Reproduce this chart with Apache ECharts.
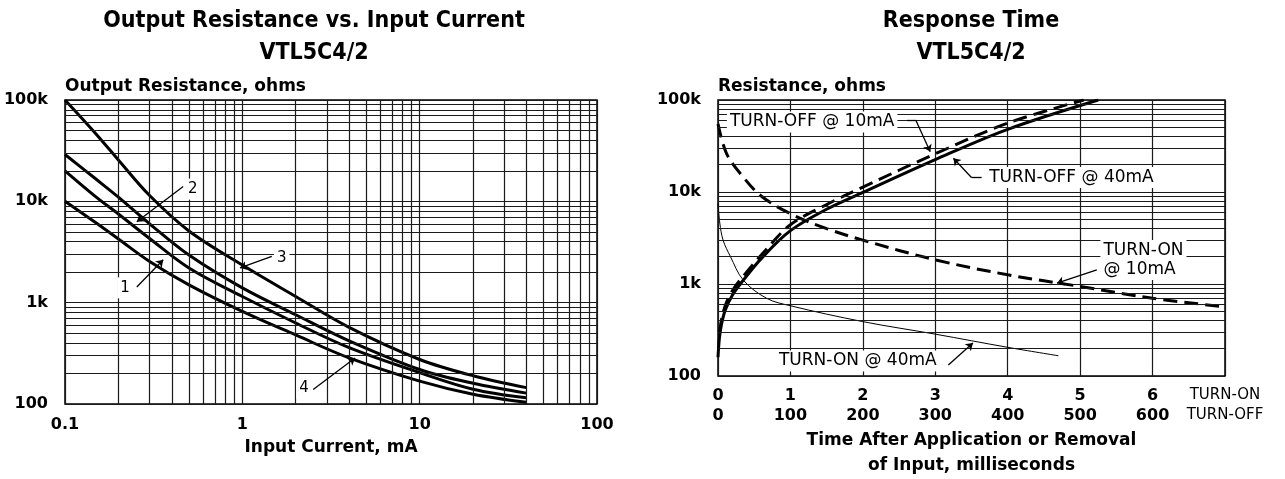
<!DOCTYPE html>
<html>
<head>
<meta charset="utf-8">
<script src="https://cdn.jsdelivr.net/npm/echarts@6/dist/echarts.min.js"></script>
<style>
  html, body { margin: 0; padding: 0; background: #fff; }
  #main { width: 1285px; height: 479px; }
</style>
</head>
<body>
<div id="main"></div>
<script>
// ---- left chart: output resistance (ohms) vs input current (mA)
const currentMA = [0.1, 0.15, 0.2, 0.3, 0.5, 1, 2, 4, 10, 20, 40];
const curve1 = [20000, 11000, 7500, 4300, 2200, 1150, 630, 360, 204, 140, 115];
const curve2 = [29000, 16500, 11000, 6000, 2950, 1400, 760, 420, 219, 160, 128];
const curve3 = [100000, 46000, 25600, 11400, 5100, 2350, 1150, 570, 275, 190, 145];
const curve4 = [10000, 6100, 4250, 2550, 1500, 820, 480, 285, 168, 125, 104];

// ---- right chart: response time
// turn-off curves use the 0..700 ms scale, turn-on curves the 0..7 ms scale
const off10Ms = [2, 6, 12, 22, 38, 65, 100, 150, 200, 300, 400, 505];
const off10Ohm = [300, 450, 640, 900, 1300, 2300, 4400, 7300, 11300, 26000, 56000, 100000];
const off40Ms = [0, 2, 5, 10, 20, 35, 60, 100, 150, 200, 300, 400, 525];
const off40Ohm = [160, 260, 370, 520, 760, 1100, 1900, 3800, 6500, 9900, 22500, 48000, 100000];
const on10Ms = [0, 0.12, 0.35, 0.6, 1, 1.5, 2, 3, 4, 5, 6, 7];
const on10Ohm = [55000, 26000, 14500, 9000, 5800, 4000, 3000, 1830, 1260, 940, 700, 565];
const on40Ms = [0, 0.025, 0.07, 0.17, 0.35, 0.67, 1, 2, 3, 4, 4.7];
const on40Ohm = [7500, 4600, 3000, 2000, 1100, 700, 580, 390, 285, 205, 166];

// tick labels
const ohmTicks = [100, 1000, 10000, 100000];
const ohmLabels = ['100', '1k', '10k', '100k'];
const onLabels = ['0', '1', '2', '3', '4', '5', '6', 'TURN-ON'];
const offLabels = ['0', '100', '200', '300', '400', '500', '600', 'TURN-OFF'];

// annotations [x, y] in data units (right chart x in turn-on ms)
const leftNotes = [
  { text: '1', at: [0.218, 1400], line: [[0.254, 1430], [0.358, 2650]] },
  { text: '2', at: [0.525, 13200], line: [[0.464, 14000], [0.254, 6300]] },
  { text: '3', at: [1.668, 2760], line: [[1.466, 2860], [0.97, 2200]] },
  { text: '4', at: [2.23, 144.5], line: [[2.51, 139], [4.32, 285]] }
];
const rightNotes = [
  { text: 'TURN-OFF @ 10mA', at: [1.30, 57700], line: [[2.61, 60600], [2.73, 60600], [2.93, 27400]] },
  { text: 'TURN-OFF @ 40mA', at: [4.88, 14400], line: [[3.64, 14400], [3.50, 14400], [3.25, 23300]] },
  { text: 'TURN-ON\n@ 10mA', at: [5.28, 1820], left: true, line: [[5.23, 1420], [4.68, 1020]] },
  { text: 'TURN-ON @ 40mA', at: [1.93, 145.6], line: [[3.18, 131.8], [3.52, 228]] }
];

const axisFont = 'DejaVu Sans';
const titleFont = '"Liberation Sans Narrow", "DejaVu Sans Condensed", sans-serif';
const gridColor = '#1a1a1a';

function minorValues(lo, hi) {
  const out = [];
  for (let d = lo; d < hi; d *= 10) {
    for (let k = 2; k <= 9; k++) out.push(+(k * d).toPrecision(3));
  }
  return out;
}

function ohmFmt(v) {
  const i = ohmTicks.findIndex(t => Math.abs(t - v) / t < 1e-6);
  return i >= 0 ? ohmLabels[i] : '';
}

function pairs(xs, ys) {
  return xs.map((x, i) => [x, ys[i]]);
}

function gridSeries(xIdx, yIdx, xs, ys) {
  return {
    type: 'line', xAxisIndex: xIdx, yAxisIndex: yIdx, data: [], z: 1, silent: true,
    markLine: {
      silent: true, symbol: 'none', animation: false,
      label: { show: false },
      lineStyle: { color: gridColor, width: 1.2, type: 'solid' },
      emphasis: { disabled: true },
      data: xs.map(v => ({ xAxis: v })).concat(ys.map(v => ({ yAxis: v })))
    }
  };
}

function noteSeries(xIdx, yIdx, notes, fontSize) {
  const lines = [];
  notes.forEach(n => {
    for (let i = 0; i < n.line.length - 1; i++) {
      const last = i === n.line.length - 2;
      lines.push([
        { coord: n.line[i], symbol: 'none' },
        { coord: n.line[i + 1], symbol: last ? 'arrow' : 'none' }
      ]);
    }
  });
  return {
    type: 'line', xAxisIndex: xIdx, yAxisIndex: yIdx, data: [], z: 5, silent: true,
    markLine: {
      silent: true, animation: false, symbolSize: 7,
      label: { show: false },
      lineStyle: { color: '#000', width: 1.3, type: 'solid' },
      emphasis: { disabled: true },
      data: lines
    },
    markPoint: {
      silent: true, animation: false, symbol: 'rect', symbolSize: 1,
      itemStyle: { color: 'rgba(0,0,0,0)' },
      data: notes.map(n => ({
        name: n.text, coord: n.at,
        label: {
          show: true, position: 'inside', formatter: p => p.name,
          align: n.left ? 'left' : 'center',
          color: '#000', fontFamily: axisFont, fontSize: fontSize, fontWeight: 'normal',
          lineHeight: 19, backgroundColor: '#fff', padding: [1, 3]
        }
      }))
    }
  };
}

function curve(xIdx, yIdx, data, width, dashed) {
  return {
    type: 'line', xAxisIndex: xIdx, yAxisIndex: yIdx, data: data, z: 3,
    smooth: 0.35, symbol: 'none', silent: true, animation: false,
    lineStyle: { color: '#000', width: width, type: dashed ? [14, 7] : 'solid', cap: 'butt' }
  };
}

const tickLabel = { color: '#000', fontFamily: axisFont, fontWeight: 'bold', fontSize: 16 };
const nameStyle = { color: '#000', fontFamily: axisFont, fontWeight: 'bold', fontSize: 17 };
const split = { show: true, lineStyle: { color: gridColor, width: 1.2 } };
const unitRich = { u: { fontFamily: axisFont, fontWeight: 'normal', fontSize: 15, color: '#000' } };

const chart = echarts.init(document.getElementById('main'));
chart.setOption({
  animation: false,
  backgroundColor: '#fff',
  title: [
    {
      text: 'Output Resistance vs. Input Current\nVTL5C4/2', left: 309, top: 0, textAlign: 'center',
      textStyle: { fontFamily: titleFont, fontWeight: 'bold', fontSize: 23, lineHeight: 32, color: '#000' }
    },
    {
      text: 'Response Time\nVTL5C4/2', left: 966, top: 0, textAlign: 'center',
      textStyle: { fontFamily: titleFont, fontWeight: 'bold', fontSize: 23, lineHeight: 32, color: '#000' }
    }
  ],
  grid: [
    { left: 65, top: 100, width: 532, height: 304, show: true, borderColor: '#000', borderWidth: 1.5, outerBoundsMode: 'none' },
    { left: 718, top: 100, width: 507, height: 276, show: true, borderColor: '#000', borderWidth: 1.5, outerBoundsMode: 'none' }
  ],
  xAxis: [
    {
      type: 'log', logBase: 10, gridIndex: 0, min: 0.1, max: 100,
      name: 'Input Current, mA', nameLocation: 'middle', nameGap: 35, nameTextStyle: nameStyle,
      axisLine: { show: false }, axisTick: { show: false }, splitLine: split,
      axisLabel: Object.assign({ margin: 13, formatter: v => String(+(+v).toPrecision(3)) }, tickLabel)
    },
    {
      type: 'value', gridIndex: 1, min: 0, max: 7, interval: 1,
      name: 'Time After Application or Removal\nof Input, milliseconds', nameLocation: 'middle', nameGap: 52,
      nameTextStyle: Object.assign({ lineHeight: 25 }, nameStyle),
      axisLine: { show: false }, axisTick: { show: false }, splitLine: split,
      axisLabel: Object.assign({
        margin: 12, showMaxLabel: true, rich: unitRich,
        formatter: v => (v === 7 ? '{u|' + onLabels[v] + '}' : onLabels[Math.round(v)])
      }, tickLabel)
    },
    {
      type: 'value', gridIndex: 1, min: 0, max: 700, interval: 100, position: 'bottom', offset: 20,
      axisLine: { show: false }, axisTick: { show: false }, splitLine: { show: false },
      axisLabel: Object.assign({
        margin: 12, showMaxLabel: true, rich: unitRich,
        formatter: v => (v === 700 ? '{u|' + offLabels[7] + '}' : offLabels[Math.round(v / 100)])
      }, tickLabel)
    }
  ],
  yAxis: [
    {
      type: 'log', logBase: 10, gridIndex: 0, min: 100, max: 100000,
      name: 'Output Resistance, ohms', nameLocation: 'end', nameGap: 5,
      nameTextStyle: Object.assign({ align: 'left' }, nameStyle),
      axisLine: { show: false }, axisTick: { show: false }, splitLine: split,
      axisLabel: Object.assign({ margin: 17, formatter: ohmFmt }, tickLabel)
    },
    {
      type: 'log', logBase: 10, gridIndex: 1, min: 100, max: 100000,
      name: 'Resistance, ohms', nameLocation: 'end', nameGap: 5,
      nameTextStyle: Object.assign({ align: 'left' }, nameStyle),
      axisLine: { show: false }, axisTick: { show: false }, splitLine: split,
      axisLabel: Object.assign({ margin: 17, formatter: ohmFmt }, tickLabel)
    }
  ],
  series: [
    gridSeries(0, 0, minorValues(0.1, 100), minorValues(100, 100000)),
    gridSeries(1, 1, [], minorValues(100, 100000)),
    curve(0, 0, pairs(currentMA, curve1), 3),
    curve(0, 0, pairs(currentMA, curve2), 3),
    curve(0, 0, pairs(currentMA, curve3), 3),
    curve(0, 0, pairs(currentMA, curve4), 3),
    curve(2, 1, pairs(off10Ms, off10Ohm), 3, true),
    curve(2, 1, pairs(off40Ms, off40Ohm), 3),
    curve(1, 1, pairs(on10Ms, on10Ohm), 3, true),
    curve(1, 1, pairs(on40Ms, on40Ohm), 1),
    noteSeries(0, 0, leftNotes, 15),
    noteSeries(1, 1, rightNotes, 17)
  ]
});
</script>
</body>
</html>
